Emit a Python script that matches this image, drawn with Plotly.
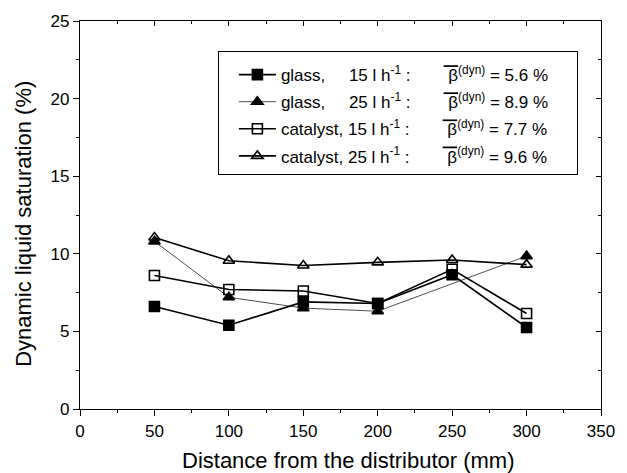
import plotly.graph_objects as go

distance = [50, 100, 150, 200, 250, 300]
glass_15 = [6.6, 5.4, 6.9, 6.8, 8.65, 5.25]
glass_25 = [10.8, 7.2, 6.5, 6.3, None, 9.85]
catalyst_15 = [8.6, 7.7, 7.6, 6.8, 9.0, 6.15]
catalyst_25 = [11.05, 9.55, 9.25, 9.45, 9.6, 9.3]

NB = "\u00a0"
BETA = '<span style="text-decoration:overline">' + NB + "\u03b2</span><sup>(dyn)</sup>"
TAIL = NB * 5
GAP = NB * 7
labels = {
    "g15": "glass," + NB * 5 + "15 l h<sup>-1</sup>" + NB + ":" + GAP + BETA + " = 5.6 %" + TAIL,
    "g25": "glass," + NB * 5 + "25 l h<sup>-1</sup>" + NB + ":" + GAP + BETA + " = 8.9 %" + TAIL,
    "c15": "catalyst, 15 l h<sup>-1</sup>" + NB + ":" + GAP + BETA + " = 7.7 %" + TAIL,
    "c25": "catalyst, 25 l h<sup>-1</sup>" + NB + ":" + GAP + BETA + " = 9.6 %" + TAIL,
}
x_title = "Distance from the distributor (mm)"
y_title = "Dynamic liquid saturation (%)"

FONT = "Liberation Sans, Arial, sans-serif"
fig = go.Figure()

def add(y, name, symbol, lw, rank):
    fig.add_trace(go.Scatter(
        x=distance, y=y, name=name, mode="lines+markers",
        connectgaps=True, legendrank=rank, legendgroup=name,
        line=dict(color="black", width=lw),
        marker=dict(symbol=symbol, size=10, color="black",
                    line=dict(color="black", width=1.6)),
    ))

add(catalyst_25, labels["c25"], "triangle-up-open", 1.6, 4)
add(catalyst_15, labels["c15"], "square-open", 1.6, 3)
add(glass_15, labels["g15"], "square", 1.6, 1)
add(glass_25, labels["g25"], "triangle-up", 0.7, 2)

# invisible trace to host the top/right mirror axes
fig.add_trace(go.Scatter(x=[], y=[], xaxis="x2", yaxis="y2", showlegend=False))

axis_common = dict(showline=True, linecolor="black", linewidth=1.3, showgrid=False,
                   zeroline=False, tickcolor="black", tickwidth=1.2,
                   tickfont=dict(family=FONT, size=17, color="black"))

fig.update_layout(
    width=627, height=473,
    margin=dict(l=80, r=18, t=19, b=64),
    plot_bgcolor="white", paper_bgcolor="white",
    font=dict(family=FONT, color="black"),
    xaxis=dict(range=[0, 350], dtick=50, tick0=0, ticks="outside", ticklen=6,
               minor=dict(dtick=25, ticks="outside", ticklen=3, tickcolor="black", tickwidth=1.2),
               **axis_common),
    yaxis=dict(range=[0, 25], dtick=5, tick0=0, ticks="outside", ticklen=6,
               minor=dict(dtick=2.5, ticks="outside", ticklen=3, tickcolor="black", tickwidth=1.2),
               **axis_common),
    xaxis2=dict(range=[0, 350], dtick=50, tick0=0, ticks="inside", ticklen=5, side="top",
                overlaying="x", showticklabels=False,
                minor=dict(dtick=25, ticks="inside", ticklen=3, tickcolor="black", tickwidth=1.2),
                **axis_common),
    yaxis2=dict(range=[0, 25], dtick=5, tick0=0, ticks="inside", ticklen=5, side="right",
                overlaying="y", showticklabels=False,
                minor=dict(dtick=2.5, ticks="inside", ticklen=3, tickcolor="black", tickwidth=1.2),
                **axis_common),
    legend=dict(x=(220 - 80) / 529, y=(409 - 49) / 390, xanchor="left", yanchor="top",
                bordercolor="black", borderwidth=1, bgcolor="white",
                font=dict(family=FONT, size=17, color="black"),
                title=dict(text=NB, font=dict(size=4)),
                tracegroupgap=2, itemwidth=37, indentation=15, traceorder="grouped"),
    showlegend=True,
    annotations=[
        dict(text=x_title, xref="paper", yref="paper", x=(353 - 80) / 529, y=-(461 - 409) / 390,
             xanchor="center", yanchor="middle", showarrow=False,
             font=dict(family=FONT, size=22, color="black")),
        dict(text=y_title, xref="paper", yref="paper", x=-(80 - 23) / 529, y=(409 - 223) / 390,
             xanchor="center", yanchor="middle", textangle=-90, showarrow=False,
             font=dict(family=FONT, size=22, color="black")),
    ],
)

fig.write_html("out.html")
